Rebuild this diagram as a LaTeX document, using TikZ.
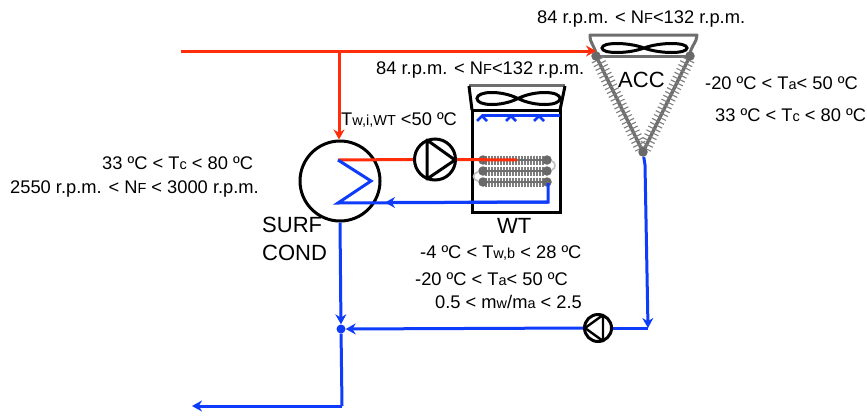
\documentclass[tikz,border=0pt]{standalone}
\usepackage{fontspec}
\setmainfont{Liberation Sans}
\usetikzlibrary{arrows.meta,calc}
\newcommand{\lo}[1]{{\fontsize{14.5}{14.5}\selectfont #1}}
\tikzset{
  x=1pt,y=-1pt,
  lab/.style={anchor=base west,inner sep=0pt,font=\fontsize{18.3}{20}\selectfont,text=black},
  biglab/.style={anchor=base west,inner sep=0pt,font=\fontsize{22}{24}\selectfont,text=black},
  redline/.style={draw={rgb,255:red,255;green,45;blue,10},line width=3pt},
  blueline/.style={draw={rgb,255:red,15;green,60;blue,250},line width=3pt},
  tip/.style={-{Stealth[length=10pt,width=11pt]}},
  pipebox/.style={draw=black,line width=3pt},
  greybox/.style={draw={rgb,255:red,110;green,110;blue,110},line width=3pt},
  hatch/.style={draw={rgb,255:red,125;green,125;blue,125},line width=1.1pt},
  coilend/.style={circle,fill={rgb,255:red,105;green,105;blue,105},inner sep=0pt,minimum size=9.5pt},
  pumpbig/.style={circle,draw=black,line width=3pt,inner sep=0pt,minimum size=41pt},
  pumpsmall/.style={circle,draw=black,line width=3pt,inner sep=0pt,minimum size=27pt},
  condshell/.style={circle,draw=black,line width=3pt,inner sep=0pt,minimum size=80pt}
}
\begin{document}
\begin{tikzpicture}
\useasboundingbox (0,0) rectangle (867,416);
% named points
\coordinate (s) at (181,51);
\coordinate (j1) at (339,51);
\coordinate (acctl) at (596,56);
\coordinate (acctr) at (690,56);
\coordinate (accb) at (643,152);
\coordinate (c1) at (338,160);
\coordinate (c2) at (371,181);
\coordinate (c3) at (338,203);
\coordinate (wr) at (517,160);
\coordinate (wb) at (548,183);
\coordinate (wc) at (548,202);
\coordinate (wa) at (385,202.5);
\coordinate (bend) at (645,165);
\coordinate (corner) at (648,328);
\coordinate (endc) at (342,406);
\coordinate (ende) at (192,406);
\node[condshell] (cond) at (340,181) {};
\node[pumpbig] (p1) at (435,159.5) {};
\node[pumpsmall] (p2) at (598,328) {};
\node[circle,fill={rgb,255:red,15;green,60;blue,250},inner sep=0pt,minimum size=9pt] (mix) at (341,329) {};
% WT box
\draw[pipebox] (472,110) rectangle (560,212);
\draw[greybox] (469,85) -- (565,85);
\draw[pipebox] (469,86) -- (472,110) (565,86) -- (560,110);
\draw[pipebox] (518,98.5) .. controls (535,90) and (560,91) .. (560,98.5) .. controls (560,106) and (535,107) .. (518,98.5) .. controls (501,90) and (477,91) .. (477,98.5) .. controls (477,106) and (501,107) .. (518,98.5);
% WT coils
\foreach \y/\n in {160/a,171/b,182/c}{
  \foreach \x in {486,489,...,544}{\draw[hatch] (\x,\y-4.5) -- (\x,\y+4.5);}
  \draw[greybox,line width=2.6pt] (483,\y) -- (547,\y);
  \node[coilend] (l\n) at (483,\y) {};
  \node[coilend] (r\n) at (547,\y) {};
}
\draw[draw=lightgray,line width=1.6pt] (ra) .. controls (556,162) and (556,169) .. (rb);
\draw[draw=lightgray,line width=1.6pt] (lb) .. controls (472,173) and (472,180) .. (lc);
% spray
\draw[blueline] (560,115.5) -- (482,115.5);
\foreach \x in {482,511,539}{\draw[blueline,line width=2.6pt] (\x-5,121) -- (\x,116) -- (\x+5,121);}
% ACC
\draw[greybox,line width=3.4pt] (acctl) -- (accb) -- (acctr);
\draw[greybox] (acctl) -- (acctr);
\draw[greybox,line join=round] (596,54) .. controls (595,46) and (589,42) .. (590,35) -- (697,35) .. controls (697,42) and (691,46) .. (690,54);
\foreach \t in {0.04,0.08,...,0.97}{
  \draw[hatch] ($(acctl)!\t!(accb)+(-6,3)$) -- ($(acctl)!\t!(accb)+(6,-3)$);
  \draw[hatch] ($(acctr)!\t!(accb)+(-6,-3)$) -- ($(acctr)!\t!(accb)+(6,3)$);
}
\draw[pipebox] (644,48) .. controls (660,42) and (687,42) .. (687,48) .. controls (687,54) and (660,54) .. (644,48) .. controls (628,42) and (602,42) .. (602,48) .. controls (602,54) and (628,54) .. (644,48);
\node[coilend] at (acctl) {};
\node[coilend] at (acctr) {};
\node[coilend] (accn) at (accb) {};
% connectors
\draw[redline,tip] (s) -- (s -| acctl);
\draw[redline,tip] (j1) -- (j1 |- cond.north);
\draw[redline] (c1) -- (p1.west);
\draw[redline] (p1.east) -- (wr);
\draw[blueline,line join=miter] (wb) -- (wc) -- (c3) -- (c2) -- (c1);
\draw[blueline,tip] (wc) -- (wa);
\draw[blueline] (accn) -- (bend);
\draw[blueline,tip] (bend) -- (corner);
\draw[blueline] (corner) -- (p2.east);
\draw[blueline,tip] (p2.west) -- (mix);
\draw[blueline,tip] (cond.south) -- (mix);
\draw[blueline] (mix) -- (endc);
\draw[blueline,tip] (endc) -- (ende);
% pump glyphs
\draw[pipebox,line join=round] (427,140) -- (455,160) -- (427,179) -- cycle;
\draw[pipebox,line width=2.4pt,line join=round] (603,315) -- (585,328) -- (603,341) -- cycle;
% labels
\node[lab] (t1) at (537,23) {84 r.p.m. < N\lo{F}<132 r.p.m.};
\node[lab] (t2) at (376,74) {84 r.p.m. < N\lo{F}<132 r.p.m.};
\node[lab] (t3) at (341,125) {T\lo{w,i,WT} <50 ºC};
\node[lab] (t4) at (705,89.5) {-20 ºC < T\lo{a}< 50 ºC};
\node[lab] (t5) at (715,121) {33 ºC < T\lo{c} < 80 ºC};
\node[lab] (t6) at (102,169) {33 ºC < T\lo{c} < 80 ºC};
\node[lab] (t7) at (10,193) {2550 r.p.m. < N\lo{F} < 3000 r.p.m.};
\node[lab] (t8) at (420,258) {-4 ºC < T\lo{w,b} < 28 ºC};
\node[lab] (t9) at (415,285) {-20 ºC < T\lo{a}< 50 ºC};
\node[lab] (t10) at (435,308) {0.5 < m\lo{w}/m\lo{a} < 2.5};
\node[biglab] (t11) at (262,232) {SURF};
\node[biglab] (t12) at (262,260) {COND};
\node[biglab] (t13) at (497,233) {WT};
\node[biglab] (t14) at (618,87.5) {ACC};
\end{tikzpicture}
\end{document}
